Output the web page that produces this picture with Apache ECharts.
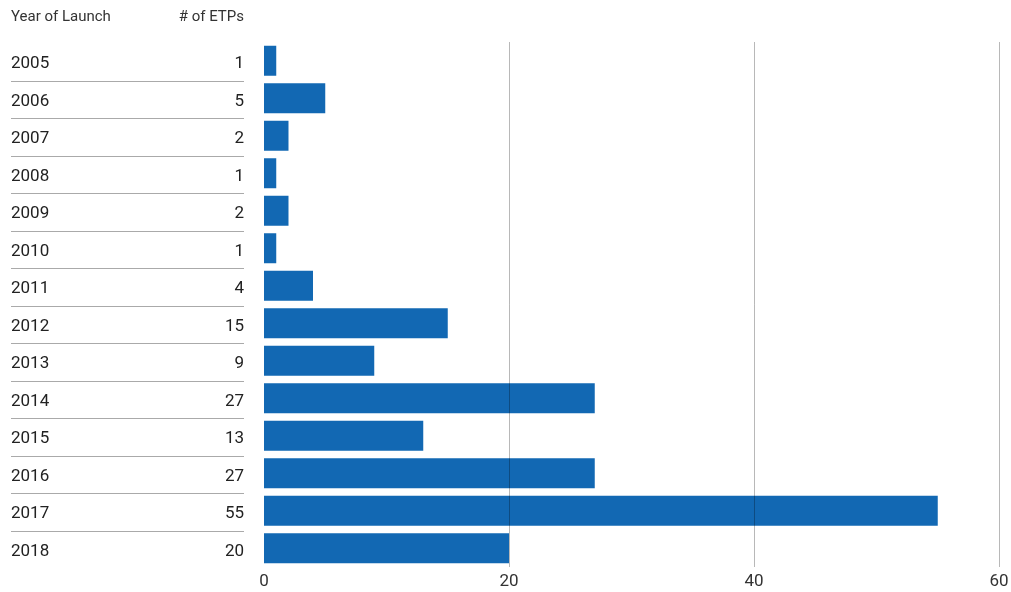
<!DOCTYPE html>
<html>
<head>
<meta charset="utf-8">
<script src="https://cdn.jsdelivr.net/npm/echarts@6/dist/echarts.min.js"></script>
<style>html,body{margin:0;padding:0;background:#fff}#c{width:1011px;height:592px}</style>
</head>
<body>
<div id="c"></div>
<script>
const years = ['2005','2006','2007','2008','2009','2010','2011','2012','2013','2014','2015','2016','2017','2018'];
const counts = [1,5,2,1,2,1,4,15,9,27,13,27,55,20];
const xTicks = [0,20,40,60];
const headerYear = 'Year of Launch';
const headerCount = '# of ETPs';

const FONT = 'Roboto';
const chart = echarts.init(document.getElementById('c'));
const sepRows = years.slice(0, years.length - 1).map((y, i) => i);

chart.setOption({
  animation: false,
  textStyle: {fontFamily: FONT},
  grid: [
    {left: 264, right: 12, top: 42, bottom: 25, outerBoundsMode: 'none', containLabel: false},
    {left: 11, width: 233, top: 42, bottom: 25, outerBoundsMode: 'none', containLabel: false}
  ],
  xAxis: [
    {type: 'value', gridIndex: 0, min: xTicks[0], max: xTicks[xTicks.length-1], interval: 20, z: 10,
     axisLine: {show: false}, axisTick: {show: false},
     axisLabel: {color: '#333', fontSize: 17, fontFamily: FONT, margin: 6,
       showMinLabel: true, showMaxLabel: true},
     splitLine: {show: true, showMinLine: false, lineStyle: {color: 'rgba(0,0,0,0.28)', width: 1}}},
    {type: 'value', gridIndex: 1, min: 0, max: 1, show: false}
  ],
  yAxis: [
    {type: 'category', gridIndex: 0, data: years, inverse: true,
     axisLine: {show: false}, axisTick: {show: false}, splitLine: {show: false},
     axisLabel: {
       margin: 253, align: 'left', fontFamily: FONT,
       formatter: (v, i) => '{y|' + v + '}{n|' + counts[i] + '}',
       rich: {
         y: {width: 190, align: 'left', fontSize: 17, color: '#222', fontFamily: FONT, lineHeight: 17, padding: [6, 0, 0, 0]},
         n: {width: 43, align: 'right', fontSize: 17, color: '#222', fontFamily: FONT, lineHeight: 17, padding: [6, 0, 0, 0]}
       }
     }},
    {type: 'category', gridIndex: 1, data: years, inverse: true, show: false}
  ],
  graphic: [
    {type: 'text', left: 11, top: 10, style: {text: headerYear, font: '15px ' + FONT, fill: '#333'}},
    {type: 'text', right: 1011 - 244, top: 10, style: {text: headerCount, font: '15px ' + FONT, fill: '#333', textAlign: 'right'}}
  ],
  series: [
    {type: 'bar', xAxisIndex: 0, yAxisIndex: 0, data: counts, barWidth: 30,
     itemStyle: {color: '#1268b3'}, z: 2},
    {type: 'custom', xAxisIndex: 1, yAxisIndex: 1, data: sepRows,
     renderItem: (params, api) => {
       const idx = api.value(0);
       const p0 = api.coord([0, idx]);
       const p1 = api.coord([1, idx]);
       const h = api.size([0, 1])[1];
       const y = Math.round(p0[1] + h / 2 + 1) + 0.5;
       return {type: 'line', shape: {x1: p0[0], y1: y, x2: p1[0], y2: y},
               style: {stroke: '#aaa', lineWidth: 1}};
     }}
  ]
});
</script>
</body>
</html>
